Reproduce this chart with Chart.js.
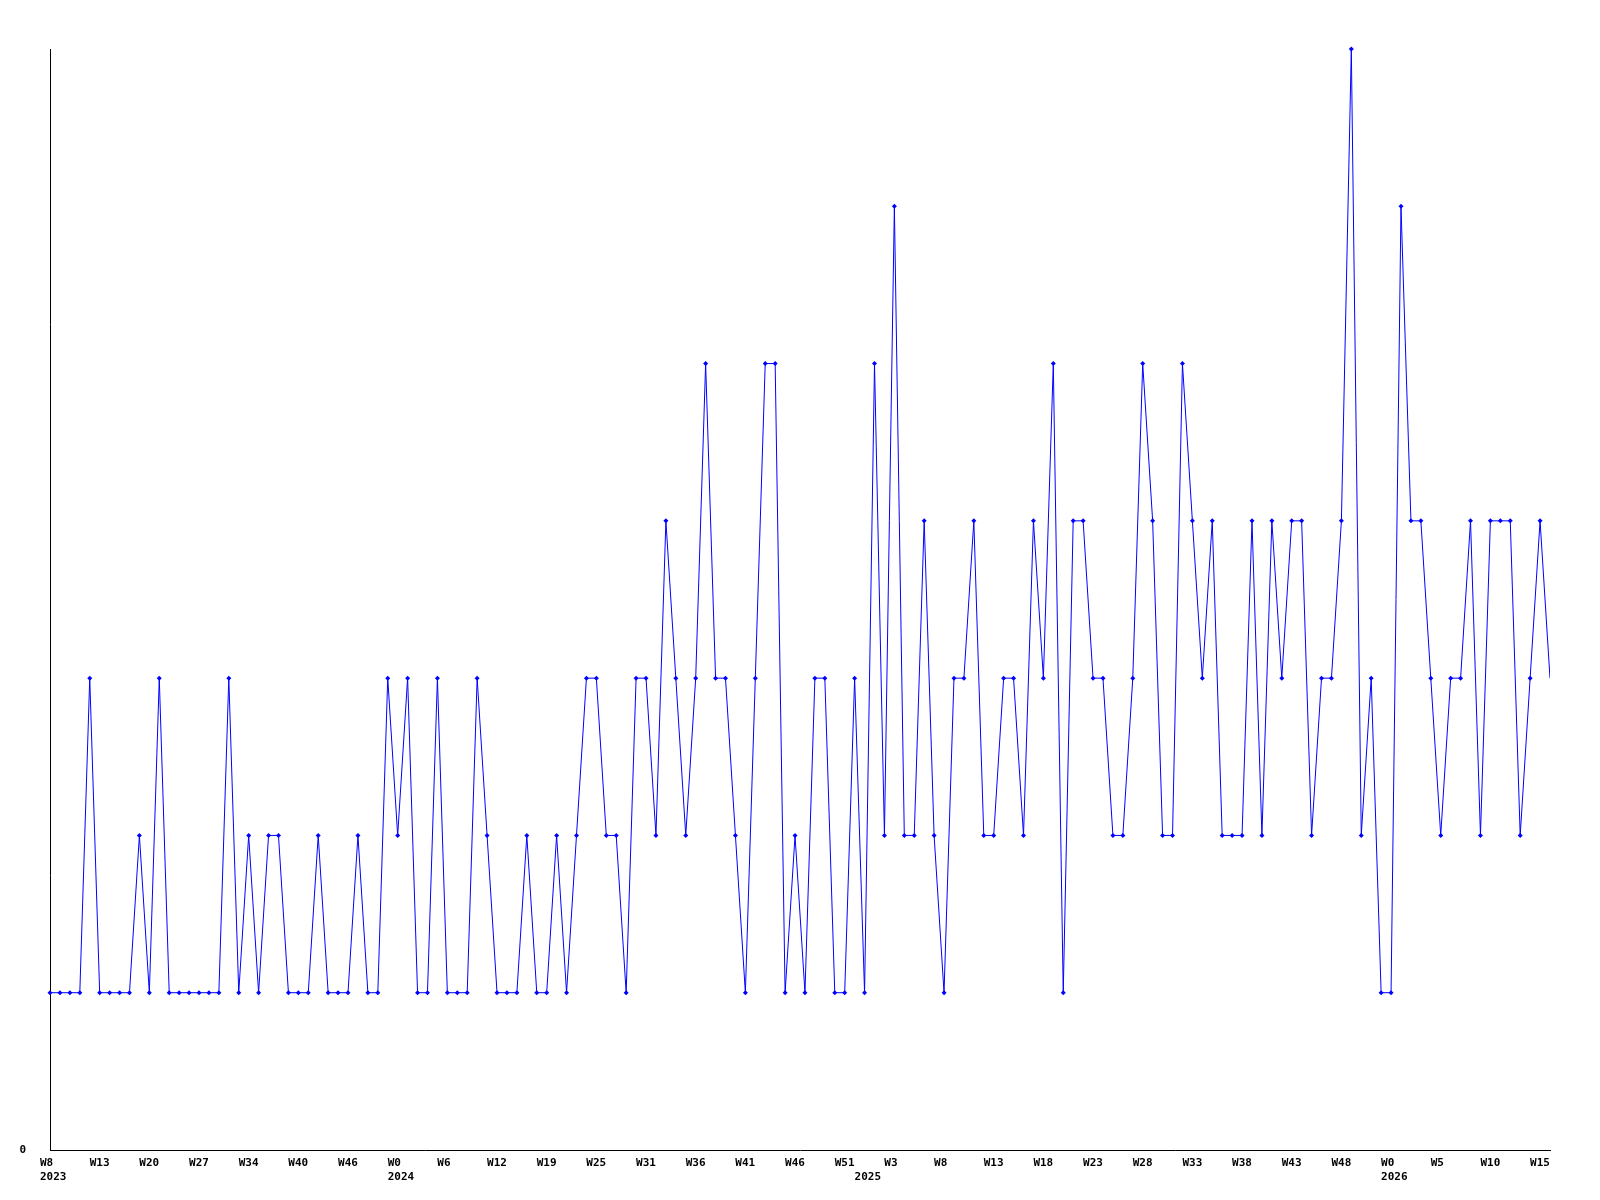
<!DOCTYPE html>
<html>
<head>
<meta charset="utf-8">
<title>Weekly counts</title>
<script src="https://cdn.jsdelivr.net/npm/chart.js@4.4.1/dist/chart.umd.min.js"></script>
<style>
  html, body { margin: 0; padding: 0; background: #fff; }
  #wrap { width: 1600px; height: 1200px; }
</style>
</head>
<body>
<div id="wrap"><canvas id="chart" width="1600" height="1200"></canvas></div>
<script>
// one point per week that had data (W8 2023 .. W16 2026)
const counts = [
  1, 1, 1, 1, 3, 1, 1, 1, 1, 2,
  1, 3, 1, 1, 1, 1, 1, 1, 3, 1,
  2, 1, 2, 2, 1, 1, 1, 2, 1, 1,
  1, 2, 1, 1, 3, 2, 3, 1, 1, 3,
  1, 1, 1, 3, 2, 1, 1, 1, 2, 1,
  1, 2, 1, 2, 3, 3, 2, 2, 1, 3,
  3, 2, 4, 3, 2, 3, 5, 3, 3, 2,
  1, 3, 5, 5, 1, 2, 1, 3, 3, 1,
  1, 3, 1, 5, 2, 6, 2, 2, 4, 2,
  1, 3, 3, 4, 2, 2, 3, 3, 2, 4,
  3, 5, 1, 4, 4, 3, 3, 2, 2, 3,
  5, 4, 2, 2, 5, 4, 3, 4, 2, 2,
  2, 4, 2, 4, 3, 4, 4, 2, 3, 3,
  4, 7, 2, 3, 1, 1, 6, 4, 4, 3,
  2, 3, 3, 4, 2, 4, 4, 4, 2, 3,
  4, 3
];

// week label on every 5th point
const weekLabels = [
  'W8', 'W13', 'W20', 'W27', 'W34', 'W40', 'W46',
  'W0', 'W6', 'W12', 'W19', 'W25', 'W31', 'W36', 'W41', 'W46', 'W51',
  'W3', 'W8', 'W13', 'W18', 'W23', 'W28', 'W33', 'W38', 'W43', 'W48',
  'W0', 'W5', 'W10', 'W15'
];
const labelStep = 5;

// year labels and the point where each year starts
const years = ['2023', '2024', '2025', '2026'];
const yearStart = [0, 35, 82, 135];

const yMax = 7;

// tick value -> lines of text
const tickText = {};
weekLabels.forEach((w, i) => { tickText[i * labelStep] = [w]; });
years.forEach((y, i) => {
  const at = yearStart[i];
  if (tickText[at]) tickText[at].push(y);
  else tickText[at] = ['', y];
});

const tickFont = { family: 'DejaVu Sans Mono', size: 11, weight: 'bold', lineHeight: '14px' };

new Chart(document.getElementById('chart').getContext('2d'), {
  type: 'line',
  data: {
    datasets: [{
      data: counts.map((v, i) => ({ x: i, y: v })),
      borderColor: '#0000ff',
      borderWidth: 1,
      tension: 0,
      fill: false,
      pointStyle: 'rectRot',
      // the last point sits on the right edge, no marker there
      pointRadius: c => (c.dataIndex === counts.length - 1 ? 0 : 2.5),
      pointBackgroundColor: '#0000ff',
      pointBorderWidth: 0,
      clip: { left: 5, top: 5, right: 0, bottom: 5 }
    }]
  },
  options: {
    responsive: false,
    animation: false,
    devicePixelRatio: 1,
    layout: { padding: { top: 49, right: 50, bottom: 0, left: 0 } },
    plugins: { legend: { display: false }, tooltip: { enabled: false } },
    scales: {
      x: {
        type: 'linear',
        min: 0,
        max: counts.length - 1,
        grid: { display: false, drawTicks: false },
        border: { display: true, color: '#000', width: 1 },
        afterBuildTicks: s => {
          s.ticks = Object.keys(tickText).map(Number).sort((a, b) => a - b).map(v => ({ value: v }));
        },
        afterFit: s => { s.height = 50; },
        ticks: {
          autoSkip: false,
          maxRotation: 0,
          align: 'start',
          labelOffset: -10,
          padding: 6,
          color: '#000',
          font: tickFont,
          callback: v => tickText[v]
        }
      },
      y: {
        min: 0,
        max: yMax,
        grid: { display: false, drawTicks: false },
        border: { display: true, color: '#000', width: 1 },
        afterBuildTicks: s => { s.ticks = [{ value: 0 }]; },
        afterFit: s => { s.width = 50; },
        ticks: {
          padding: 24,
          color: '#000',
          font: tickFont,
          callback: v => String(v)
        }
      }
    }
  }
});
</script>
</body>
</html>
